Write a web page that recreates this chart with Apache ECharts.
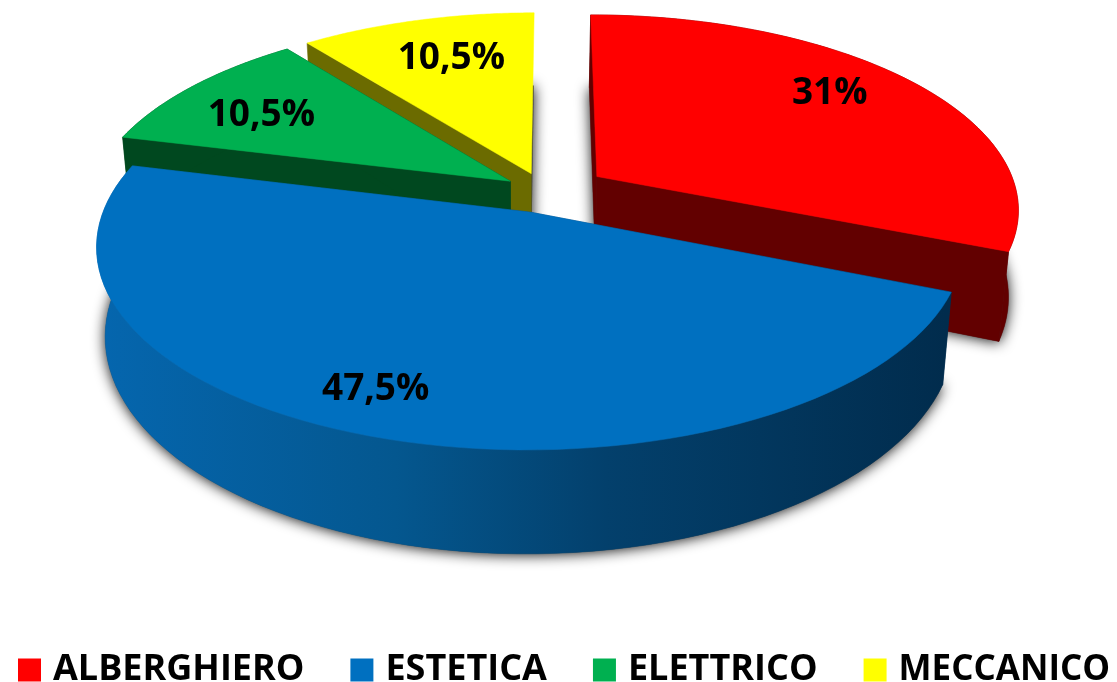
<!DOCTYPE html>
<html><head><meta charset="utf-8">
<style>html,body{margin:0;padding:0;background:#fff}#c{width:1117px;height:682px}</style>
<script src="https://cdn.jsdelivr.net/npm/echarts@6/dist/echarts.min.js"></script>
</head><body><div id="c"></div>
<script>
const categories = ['ALBERGHIERO', 'ESTETICA', 'ELETTRICO', 'MECCANICO'];
const values = [31, 47.5, 10.5, 10.5];
const valueLabels = ['31%', '47,5%', '10,5%', '10,5%'];

const topColors = ['#ff0000', '#0070c0', '#00b050', '#ffff00'];
const wallColors = ['#620000', null, '#00481f', '#6b6b00'];
const explodeU = [0.108, -0.05, -0.1, -0.05];
const explodeV = [-0.045, 0.14, -0.02, -0.06];
const labelRadius = [0.789, 0.826, 0.75, 0.741];
const labelAngle = [51.1, 202.1, 301.3, 342.7];
const showEndWall = [true, true, true, false];
const legendFontSize = [36, 36, 36, 35];
const drawOrder = [3, 2, 0, 1];

const CX = 552, CY = 185, R = 418, RK = 190, P = 0.16, H = 85, SHRINK = 0.98, SHRINK_CX = 523;

const total = values.reduce((a, b) => a + b, 0);
const spans = [];
values.reduce((acc, v) => { const e = acc + v / total * 360; spans.push([acc, e]); return e; }, 0);
const rad = d => d * Math.PI / 180;
function project(u, v, down) {
  const s = 1 / (1 - P * v);
  let x = CX + R * u * s, y = CY + RK * v * s;
  if (down) { x = SHRINK_CX + (x - SHRINK_CX) * SHRINK; y += H * s; }
  return [x, y];
}
function offset(i) { return [explodeU[i], explodeV[i]]; }
function rim(i, down) {
  const [a, b] = spans[i], [ou, ov] = offset(i), pts = [];
  for (let k = 0; k <= 80; k++) {
    const t = rad(a + (b - a) * k / 80);
    pts.push(project(ou + Math.sin(t), ov - Math.cos(t), down));
  }
  return pts;
}
function apex(i, down) { const [ou, ov] = offset(i); return project(ou, ov, down); }
const blueWall = new echarts.graphic.LinearGradient(100, 0, 945, 0, [
  { offset: 0, color: '#0566ae' }, { offset: 0.35, color: '#04578f' },
  { offset: 0.6, color: '#03406c' }, { offset: 1, color: '#012c4d' }], true);

function renderSlice(i) {
  return function () {
    const top = rim(i, false), bot = rim(i, true);
    const A = apex(i, false), B = apex(i, true);
    const wall = wallColors[i] || blueWall;
    const poly = (points, fill) => ({ type: 'polygon', shape: { points }, style: { fill, stroke: fill, lineWidth: 0.5 } });
    const n = top.length - 1;
    const ang = rad(labelAngle[i]), [ou, ov] = offset(i);
    const lp = project(ou + labelRadius[i] * Math.sin(ang), ov - labelRadius[i] * Math.cos(ang), false);
    const children = [poly([A, top[0], bot[0], B], wall)];
    if (showEndWall[i]) {
      children.push(poly([A, top[n], bot[n], B], wall));
      children.push(poly(top.concat(bot.slice().reverse()), wall));
    }
    children.push(poly([A].concat(top), topColors[i]));
    children.push({ type: 'text', x: lp[0], y: lp[1] + 3, style: {
      text: valueLabels[i], fill: '#000', font: 'bold 37px "Open Sans"', align: 'center', verticalAlign: 'middle' } });
    return { type: 'group', children };
  };
}
function renderShadow() {
  const children = values.map((v, i) => ({
    type: 'polygon',
    shape: { points: [apex(i, true)].concat(rim(i, true)) },
    style: { fill: '#444', shadowBlur: 14, shadowColor: 'rgba(0,0,0,0.95)', shadowOffsetX: 0, shadowOffsetY: 1 }
  }));
  return { type: 'group', children };
}
const series = [{ type: 'custom', name: 'shadow', coordinateSystem: 'none', silent: true, animation: false, z: 1,
  data: [[0]], renderItem: renderShadow }];
drawOrder.forEach((i, o) => series.push({
  type: 'custom', name: categories[i], coordinateSystem: 'none', silent: true, animation: false, z: 2 + o,
  itemStyle: { color: topColors[i] }, data: [[values[i]]], renderItem: renderSlice(i)
}));
const chart = echarts.init(document.getElementById('c'), null, { renderer: 'canvas' });
chart.setOption({
  backgroundColor: '#fff',
  animation: false,
  legend: {
    data: categories.map((name, i) => ({ name, textStyle: { fontSize: legendFontSize[i] } })),
    left: 13, top: 647, width: 1400, icon: 'rect', itemWidth: 23, itemHeight: 23, itemGap: 46,
    selectedMode: false,
    textStyle: { fontFamily: 'Open Sans', fontWeight: 'bold', fontSize: 36, color: '#000', padding: [0, 0, 0, 7] }
  },
  series
});
</script></body></html>
